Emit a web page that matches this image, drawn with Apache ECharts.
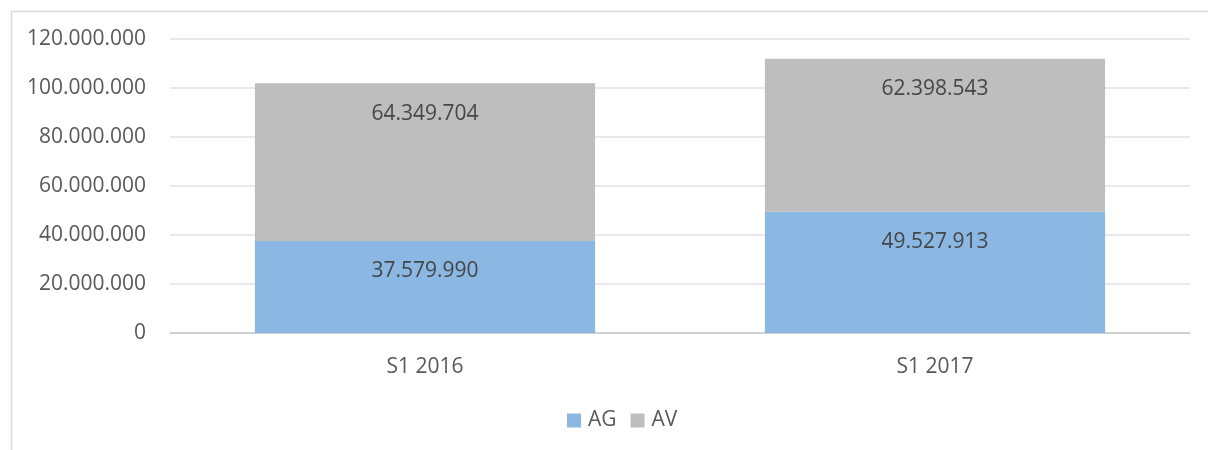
<!DOCTYPE html>
<html>
<head>
<meta charset="utf-8">
<script src="https://cdn.jsdelivr.net/npm/echarts@6/dist/echarts.min.js"></script>
<style>
html, body { margin: 0; padding: 0; background: #fff; overflow: hidden; }
#chart { width: 1208px; height: 450px; }
</style>
</head>
<body>
<div id="chart"></div>
<script>
var categories = ['S1 2016', 'S1 2017'];
var agValues = [37579990, 49527913];
var avValues = [64349704, 62398543];
var yTicks = [0, 20000000, 40000000, 60000000, 80000000, 100000000, 120000000];

var font = '"Open Sans", sans-serif';

// 1.234.567 style
function fmt(v) {
    return String(Math.round(v)).replace(/\B(?=(\d{3})+(?!\d))/g, '.');
}

var myChart = echarts.init(document.getElementById('chart'), null, {renderer: 'canvas'});

var labelStyle = {
    show: true, position: 'insideTop', distance: 20,
    fontFamily: font, fontSize: 21, color: '#404040',
    formatter: function (p) { return fmt(p.value); }
};

var option = {
    animation: false,
    textStyle: { fontFamily: font },
    graphic: [{
        type: 'rect',
        left: 9, top: 9,
        shape: { width: 1400, height: 600 },
        style: { fill: 'none', stroke: '#d9d9d9', lineWidth: 1.5 },
        silent: true
    }],
    grid: { left: 170, right: 18, top: 39, bottom: 117 },
    legend: {
        bottom: 14,
        left: 562,
        itemWidth: 14,
        itemHeight: 14,
        itemGap: 14,
        icon: 'rect',
        textStyle: { fontFamily: font, fontSize: 21, color: '#595959', padding: [0, 0, 0, 2] },
        data: ['AG', 'AV']
    },
    xAxis: {
        type: 'category',
        data: categories,
        axisTick: { show: false },
        axisLine: { lineStyle: { color: '#c8c8c8', width: 1.5 } },
        axisLabel: { fontFamily: font, fontSize: 21, color: '#595959', margin: 24 }
    },
    yAxis: {
        type: 'value',
        min: yTicks[0],
        max: yTicks[yTicks.length - 1],
        interval: yTicks[1] - yTicks[0],
        axisLine: { show: false },
        axisTick: { show: false },
        splitLine: { lineStyle: { color: '#e2e2e2', width: 1.5 } },
        axisLabel: {
            fontFamily: font, fontSize: 21, color: '#595959', margin: 24,
            formatter: function (v) { return fmt(v); }
        }
    },
    series: [
        {
            name: 'AG',
            type: 'bar',
            stack: 'total',
            barWidth: '66.7%',
            data: agValues,
            itemStyle: { color: '#85b4e0', opacity: 0.95 },
            label: labelStyle
        },
        {
            name: 'AV',
            type: 'bar',
            stack: 'total',
            barWidth: '66.7%',
            data: avValues,
            itemStyle: { color: '#bbbbbb', opacity: 0.95 },
            label: labelStyle
        }
    ]
};

myChart.setOption(option);
</script>
</body>
</html>
